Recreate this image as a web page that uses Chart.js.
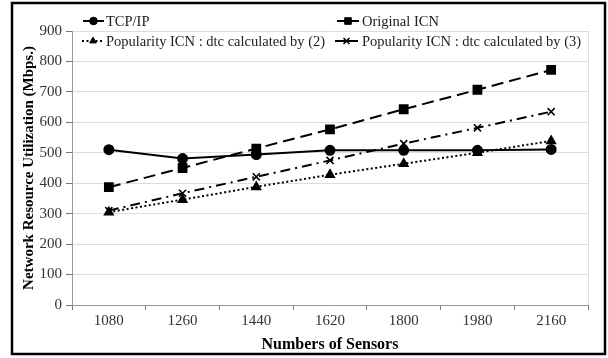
<!DOCTYPE html>
<html>
<head>
<meta charset="utf-8">
<script src="https://cdn.jsdelivr.net/npm/chart.js@4.4.1/dist/chart.umd.min.js"></script>
<style>
  html, body { margin: 0; padding: 0; background: #fff; }
  canvas { display: block; }
</style>
</head>
<body>
<canvas id="myChart" width="608" height="358"></canvas>
<script>
const sensors = ['1080', '1260', '1440', '1620', '1800', '1980', '2160'];
const tcpIp = [510, 481, 494, 508, 508, 508, 511];
const originalIcn = [387, 450, 514, 577, 643, 707, 772];
const popularity2 = [305, 346, 388, 428, 464, 500, 539];
const popularity3 = [310, 367, 421, 475, 530, 582, 635];
const yTicks = [0, 100, 200, 300, 400, 500, 600, 700, 800, 900];

const serif = 'Liberation Serif';

// legend slots: line start, line end, text x, row y
const legendSlots = [
    { x0: 83, x1: 104, tx: 106, y: 21 },
    { x0: 337, x1: 359, tx: 362, y: 21 },
    { x0: 82, x1: 104, tx: 106, y: 41 },
    { x0: 335, x1: 358, tx: 362, y: 41 }
];

const frame = {
    id: 'frame',
    beforeDraw(chart) {
        const {ctx} = chart;
        ctx.save();
        ctx.fillStyle = '#fff';
        ctx.fillRect(0, 0, chart.width, chart.height);
        ctx.restore();
    },
    beforeDatasetsDraw(chart) {
        const {ctx, chartArea: {top, bottom, right}} = chart;
        ctx.save();
        ctx.strokeStyle = '#dcdcdc';
        ctx.lineWidth = 1;
        ctx.beginPath();
        ctx.moveTo(right + 0.5, top);
        ctx.lineTo(right + 0.5, bottom);
        ctx.stroke();
        ctx.restore();
    },
    afterDraw(chart) {
        const {ctx} = chart;
        ctx.save();
        ctx.strokeStyle = '#000';
        ctx.lineWidth = 2.5;
        ctx.strokeRect(12, 3, 593, 351);
        ctx.restore();
    }
};

const customLegend = {
    id: 'customLegend',
    afterDraw(chart) {
        const {ctx} = chart;
        chart.data.datasets.forEach((ds, i) => {
            const s = legendSlots[i];
            ctx.save();
            ctx.strokeStyle = '#000';
            ctx.lineWidth = ds.borderWidth;
            ctx.setLineDash(ds.legendDash || []);
            ctx.beginPath();
            ctx.moveTo(s.x0, s.y);
            ctx.lineTo(s.x1, s.y);
            ctx.stroke();
            ctx.setLineDash([]);
            ctx.fillStyle = '#000';
            ctx.lineWidth = ds.pointBorderWidth || 1;
            Chart.helpers.drawPoint(ctx, {
                pointStyle: ds.pointStyle,
                radius: ds.pointRadius * 0.85,
                rotation: 0,
                borderWidth: ds.pointBorderWidth || 1
            }, (s.x0 + s.x1) / 2, s.y);
            ctx.fillStyle = '#222';
            ctx.font = '14.5px "' + serif + '"';
            ctx.textAlign = 'left';
            ctx.textBaseline = 'middle';
            ctx.fillText(ds.label, s.tx, s.y + 1);
            ctx.restore();
        });
    }
};

const data = {
    labels: sensors,
    datasets: [
        {
            label: 'TCP/IP',
            data: tcpIp,
            borderColor: '#000',
            backgroundColor: '#000',
            borderWidth: 2,
            pointStyle: 'circle',
            pointRadius: 4.5,
            legendDash: []
        },
        {
            label: 'Original ICN',
            data: originalIcn,
            borderColor: '#000',
            backgroundColor: '#000',
            borderWidth: 2,
            borderDash: [12, 6],
            pointStyle: 'rect',
            pointRadius: 5.5,
            legendDash: []
        },
        {
            label: 'Popularity ICN : dtc calculated by (2)',
            data: popularity2,
            borderColor: '#000',
            backgroundColor: '#000',
            borderWidth: 2,
            borderDash: [2, 2.5],
            pointStyle: 'triangle',
            pointRadius: 4.5,
            legendDash: [2, 2.5]
        },
        {
            label: 'Popularity ICN : dtc calculated by (3)',
            data: popularity3,
            borderColor: '#000',
            backgroundColor: '#000',
            borderWidth: 2,
            borderDash: [10, 5, 2, 5],
            pointStyle: 'crossRot',
            pointRadius: 5,
            pointBorderWidth: 1.6,
            legendDash: []
        }
    ]
};

const config = {
    type: 'line',
    data,
    plugins: [frame, customLegend],
    options: {
        responsive: false,
        animation: false,
        layout: {
            padding: { left: 12, right: 20, top: 31, bottom: 4 }
        },
        elements: {
            line: { tension: 0, fill: false }
        },
        plugins: {
            legend: { display: false },
            tooltip: { enabled: false }
        },
        scales: {
            x: {
                offset: true,
                afterFit(scale) { scale.height = 49; },
                grid: {
                    offset: true,
                    drawOnChartArea: false,
                    drawTicks: true,
                    tickLength: 5,
                    tickColor: '#777'
                },
                border: { color: '#999', width: 1 },
                ticks: {
                    color: '#333',
                    padding: 2,
                    font: { family: serif, size: 15 }
                },
                title: {
                    display: true,
                    text: 'Numbers of Sensors',
                    color: '#000',
                    padding: { top: 0, bottom: 0 },
                    font: { family: serif, size: 16, weight: 'bold' }
                }
            },
            y: {
                min: 0,
                max: 900,
                afterFit(scale) { scale.width = 60; },
                afterBuildTicks(scale) {
                    scale.ticks = yTicks.map(v => ({ value: v }));
                },
                grid: {
                    color: '#dcdcdc',
                    tickColor: '#777',
                    tickLength: 6
                },
                border: { color: '#999', width: 1 },
                ticks: {
                    color: '#333',
                    padding: 4,
                    font: { family: serif, size: 15 }
                },
                title: {
                    display: true,
                    text: 'Network Resource Utilization (Mbps.)',
                    color: '#000',
                    padding: { top: 8, bottom: 0 },
                    font: { family: serif, size: 15, weight: 'bold' }
                }
            }
        }
    }
};

const myChart = new Chart(document.getElementById('myChart'), config);
</script>
</body>
</html>
